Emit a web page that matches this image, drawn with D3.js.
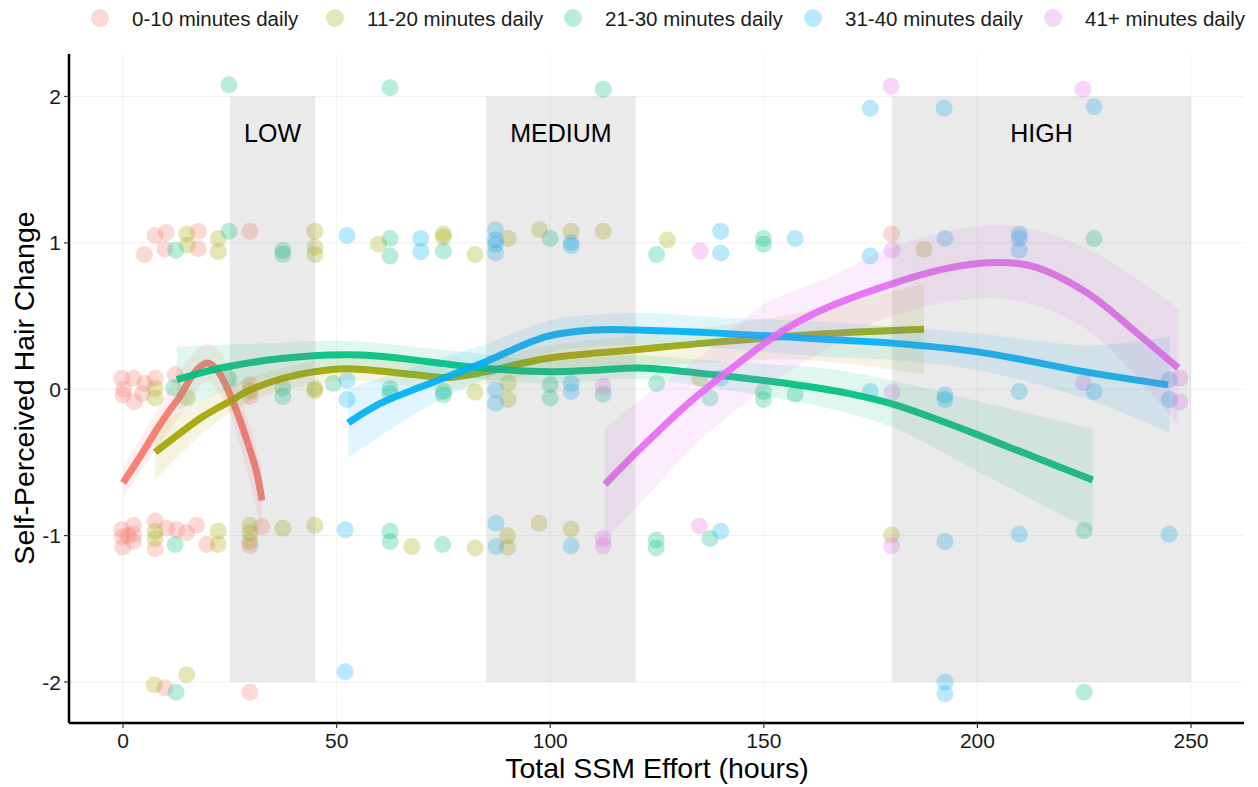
<!DOCTYPE html>
<html>
<head>
<meta charset="utf-8">
<script src="https://cdn.jsdelivr.net/npm/d3@7"></script>
<style>
  html, body { margin: 0; padding: 0; background: #fff; }
  svg { display: block; font-family: "Liberation Sans", Arial, Helvetica, sans-serif; }
</style>
</head>
<body>
<svg id="chart" width="1258" height="787"></svg>
<script>
// ---------------- DATA ----------------
const groups = ["0-10 minutes daily", "11-20 minutes daily", "21-30 minutes daily", "31-40 minutes daily", "41+ minutes daily"];
const colors = ["#F8766D", "#A3A500", "#00BF7D", "#00B0F6", "#E76BF3"];

const xTicks = [0, 50, 100, 150, 200, 250];
const yTicks = [-2, -1, 0, 1, 2];

const zones = [
  { label: "LOW", x0: 25, x1: 45 },
  { label: "MEDIUM", x0: 85, x1: 120 },
  { label: "HIGH", x0: 180, x1: 250 }
];

// scatter points [effort, change] (jittered as in the picture)
const pts0_10 = [
  [7.5,1.05],[10.1,1.07],[17.6,1.08],[5.0,0.92],[9.8,0.96],[17.6,0.96],[29.7,1.08],[179.9,1.06],
  [-0.3,0.075],[2.4,0.075],[5.1,0.04],[0,-0.04],[2.6,-0.085],[7.5,0.075],[12.2,0.1],[29.7,0.03],[29.7,-0.05],[0.2,0.0],[4.5,-0.03],
  [-0.3,-0.96],[-0.2,-1.01],[-0.1,-1.08],[2.4,-0.93],[2.5,-0.99],[2.4,-1.04],[1.2,-1.0],[7.5,-0.9],[7.5,-1.09],[10.2,-0.95],
  [12.6,-0.96],[14.9,-0.98],[17.2,-0.93],[19.6,-1.06],[29.7,-1.07],[32.5,-0.94],
  [9.8,-2.04],[29.7,-2.07]
];
const pts11_20 = [
  [14.9,1.06],[15.1,0.985],[22.3,1.03],[22.3,0.94],[44.9,1.08],[44.9,0.97],[44.9,0.92],[59.8,0.99],[75,1.06],[75,1.04],
  [82.4,0.92],[90.2,1.03],[97.5,1.09],[104.9,1.08],[112.4,1.08],[127.4,1.02],[187.5,0.955],
  [7.5,0.005],[7.5,-0.06],[15.1,-0.06],[29.7,-0.01],[44.9,0.005],[44.9,-0.01],[82.4,-0.02],[90.2,0.04],[90.2,-0.07],[135,0.075],
  [7.5,-0.97],[7.5,-1.02],[22.3,-0.97],[22.3,-1.06],[29.7,-0.93],[29.7,-0.98],[29.7,-1.04],[37.4,-0.95],[44.9,-0.93],
  [67.6,-1.075],[82.4,-1.085],[90,-1.0],[90,-1.08],[97.4,-0.915],[104.9,-0.955],[179.9,-0.995],
  [7.3,-2.02],[14.9,-1.95]
];
const pts21_30 = [
  [24.8,2.08],[62.5,2.06],[112.4,2.05],
  [12.3,0.95],[24.8,1.08],[37.4,0.95],[37.4,0.92],[62.5,1.03],[62.5,0.91],[75,0.945],[100,1.03],[124.9,0.92],[149.9,1.03],[149.9,0.99],[227.3,1.03],
  [11.8,0.01],[24.7,0.075],[37.4,0.01],[37.4,-0.05],[49.2,0.04],[62.5,0.005],[62.5,-0.03],[75,-0.015],[75,-0.04],[100,0.03],[100,-0.06],
  [112.4,-0.035],[124.9,0.04],[137.4,-0.06],[149.9,-0.015],[149.9,-0.07],[157.3,-0.035],
  [12.2,-1.06],[62.5,-0.97],[62.5,-1.04],[74.8,-1.06],[124.8,-1.03],[124.8,-1.085],[137.4,-1.02],[225,-0.965],
  [12.4,-2.07],[225,-2.07]
];
const pts31_40 = [
  [174.9,1.92],[192.2,1.92],[227.3,1.93],
  [52.4,1.05],[69.7,1.03],[69.7,0.94],[87.2,1.09],[87.2,1.02],[87.2,0.99],[87.2,0.93],[104.9,1.0],[104.9,0.98],[139.9,1.08],[139.9,0.93],
  [157.3,1.03],[174.9,0.91],[192.4,1.03],[209.8,1.06],[209.8,1.03],[209.8,0.95],
  [52.4,0.06],[52.4,-0.07],[87.2,-0.005],[87.2,-0.095],[104.9,0.04],[104.9,-0.015],[139.9,0.075],[174.9,-0.015],[192.4,-0.07],[192.4,-0.04],
  [209.8,-0.015],[227.3,-0.015],[244.9,0.065],[244.9,-0.07],
  [52,-0.96],[87.3,-0.915],[87.3,-1.075],[104.9,-1.07],[139.9,-0.97],[192.4,-1.04],[209.8,-0.99],[244.9,-0.99],
  [52,-1.93],[192.4,-2.0],[192.4,-2.08]
];
const pts41 = [
  [179.8,2.07],[224.7,2.05],
  [135.1,0.945],[180,0.95],
  [112.4,0.02],[180,-0.02],[224.8,0.045],[247.4,0.075],[247.4,-0.085],
  [112.4,-1.02],[112.4,-1.07],[134.9,-0.935],[179.9,-1.07]
];

// smoothed fits [effort, fit]
const fit0_10 = [[0,-0.64],[4,-0.46],[8,-0.27],[11,-0.14],[13.3,-0.05],[15.5,0.06],[17.5,0.14],[19.6,0.18],[21.5,0.15],[23.5,0.06],[25.5,-0.07],[27,-0.18],[29,-0.35],[31.3,-0.57],[32.5,-0.76]];
const fit11_20 = [[7.5,-0.43],[12,-0.33],[18,-0.2],[22,-0.13],[25.8,-0.07],[28.6,-0.02],[37,0.07],[45,0.12],[52.4,0.14],[60,0.125],[68,0.1],[76,0.08],[85,0.12],[99,0.21],[120,0.27],[138,0.32],[165,0.38],[187.5,0.41]];
const fit21_30 = [[12.6,0.065],[18,0.11],[24.7,0.155],[37,0.21],[52,0.235],[60,0.225],[71,0.19],[84,0.145],[100,0.12],[110,0.13],[121,0.145],[130,0.125],[138,0.1],[150,0.06],[160,0.02],[170,-0.03],[180,-0.1],[190,-0.2],[200,-0.31],[213,-0.46],[227,-0.62]];
const fit31_40 = [[52.7,-0.23],[60,-0.1],[71,0.03],[85,0.19],[99,0.36],[110,0.405],[120,0.405],[138,0.385],[165,0.34],[180,0.315],[200,0.255],[227,0.11],[244.6,0.03]];
const fit41 = [[112.8,-0.65],[122,-0.38],[133,-0.08],[145,0.2],[155,0.41],[165,0.56],[180,0.72],[192,0.82],[204,0.865],[213,0.84],[225.6,0.66],[237.3,0.385],[247,0.145]];

// confidence bands [effort, lower, upper]
const band0_10 = [[0,-0.74,-0.54],[8,-0.4,-0.14],[14,-0.15,0.15],[19.6,0.05,0.31],[24,-0.1,0.2],[28,-0.45,-0.1],[32.5,-0.98,-0.54]];
const band11_20 = [[7.5,-0.62,-0.25],[20,-0.27,-0.05],[30,-0.08,0.08],[52,0.06,0.22],[76,0.0,0.16],[100,0.12,0.3],[130,0.17,0.4],[160,0.2,0.53],[187.5,0.1,0.72]];
const band21_30 = [[12.6,-0.15,0.29],[30,0.05,0.31],[52,0.14,0.33],[75,0.09,0.27],[100,0.04,0.2],[120,0.07,0.23],[140,0.0,0.19],[165,-0.13,0.14],[180,-0.26,0.06],[200,-0.56,-0.08],[227,-0.97,-0.27]];
const band31_40 = [[52.7,-0.47,0.0],[70,-0.14,0.17],[85,0.07,0.31],[100,0.25,0.47],[120,0.3,0.52],[140,0.28,0.49],[165,0.22,0.46],[180,0.2,0.43],[200,0.13,0.38],[227,-0.08,0.3],[245,-0.3,0.36]];
const band41 = [[112.8,-1.03,-0.27],[122,-0.75,-0.05],[135,-0.35,0.22],[150,0.0,0.58],[165,0.28,0.76],[180,0.5,0.97],[205,0.62,1.12],[225,0.42,0.97],[247,-0.25,0.55]];

const seriesPts = [pts0_10, pts11_20, pts21_30, pts31_40, pts41];
const seriesFit = [fit0_10, fit11_20, fit21_30, fit31_40, fit41];
const seriesBand = [band0_10, band11_20, band21_30, band31_40, band41];

const xTitle = "Total SSM Effort (hours)";
const yTitle = "Self-Perceived Hair Change";

// ---------------- DRAW ----------------
const svg = d3.select("#chart");
const pL = 69, pR = 1244, pT = 54, pB = 723;
const x = d3.scaleLinear().domain([-12.65, 262.4]).range([pL, pR]);
const y = d3.scaleLinear().domain([-2.28, 2.29]).range([pB, pT]);

// grid
const grid = svg.append("g");
grid.selectAll("line.gx").data(xTicks).join("line")
  .attr("x1", d => x(d)).attr("x2", d => x(d)).attr("y1", pT).attr("y2", pB)
  .attr("stroke", "#f1f1f1").attr("stroke-width", 1);
grid.selectAll("line.gy").data(yTicks).join("line")
  .attr("y1", d => y(d)).attr("y2", d => y(d)).attr("x1", pL).attr("x2", pR)
  .attr("stroke", "#f1f1f1").attr("stroke-width", 1);

// points
const ptsG = svg.append("g");
seriesPts.forEach((pts, i) => {
  ptsG.append("g").selectAll("circle").data(pts).join("circle")
    .attr("cx", d => x(d[0])).attr("cy", d => y(d[1])).attr("r", 8.5)
    .attr("fill", colors[i]).attr("fill-opacity", 0.28);
});

// smooths
const area = d3.area().x(d => x(d[0])).y0(d => y(d[1])).y1(d => y(d[2])).curve(d3.curveCatmullRom);
const line = d3.line().x(d => x(d[0])).y(d => y(d[1])).curve(d3.curveCatmullRom);
const smG = svg.append("g");
seriesFit.forEach((fit, i) => {
  smG.append("path").datum(seriesBand[i]).attr("d", area)
    .attr("fill", colors[i]).attr("fill-opacity", 0.12);
  smG.append("path").datum(fit).attr("d", line)
    .attr("fill", "none").attr("stroke", colors[i]).attr("stroke-width", 7)
    .attr("stroke-linecap", "butt").attr("stroke-opacity", 0.92);
});

// zones
const zG = svg.append("g");
zG.selectAll("rect").data(zones).join("rect")
  .attr("x", d => x(d.x0)).attr("width", d => x(d.x1) - x(d.x0))
  .attr("y", y(2)).attr("height", y(-2) - y(2))
  .attr("fill", "#7f7f7f").attr("fill-opacity", 0.16);
zG.selectAll("text").data(zones).join("text")
  .attr("x", d => x((d.x0 + d.x1) / 2)).attr("y", y(1.75))
  .attr("text-anchor", "middle").attr("dominant-baseline", "central")
  .attr("font-size", 25).attr("fill", "#000").text(d => d.label);

// axes
const axG = svg.append("g");
axG.append("line").attr("x1", pL).attr("x2", pR).attr("y1", pB).attr("y2", pB)
  .attr("stroke", "#000").attr("stroke-width", 2.5);
axG.append("line").attr("x1", pL).attr("x2", pL).attr("y1", pT).attr("y2", pB)
  .attr("stroke", "#000").attr("stroke-width", 2.5);
axG.selectAll("line.tx").data(xTicks).join("line").attr("class", "tx")
  .attr("x1", d => x(d)).attr("x2", d => x(d)).attr("y1", pB).attr("y2", pB + 5)
  .attr("stroke", "#333").attr("stroke-width", 1.2);
axG.selectAll("line.ty").data(yTicks).join("line").attr("class", "ty")
  .attr("y1", d => y(d)).attr("y2", d => y(d)).attr("x1", pL - 5).attr("x2", pL)
  .attr("stroke", "#333").attr("stroke-width", 1.2);
axG.selectAll("text.tx").data(xTicks).join("text").attr("class", "tx")
  .attr("x", d => x(d)).attr("y", 740).attr("text-anchor", "middle").attr("dominant-baseline", "central")
  .attr("font-size", 21).attr("fill", "#1a1a1a").text(d => d);
axG.selectAll("text.ty").data(yTicks).join("text").attr("class", "ty")
  .attr("x", 61).attr("y", d => y(d)).attr("text-anchor", "end").attr("dominant-baseline", "central")
  .attr("font-size", 21).attr("fill", "#1a1a1a").text(d => d < 0 ? "-" + Math.abs(d) : d);

svg.append("text").attr("x", 657).attr("y", 768).attr("text-anchor", "middle").attr("dominant-baseline", "central")
  .attr("font-size", 28.5).attr("fill", "#000").text(xTitle);
svg.append("text").attr("transform", "translate(24,388) rotate(-90)").attr("text-anchor", "middle")
  .attr("dominant-baseline", "central").attr("font-size", 28.5).attr("fill", "#000").text(yTitle);

// legend
const legX = [100, 335, 573, 813, 1053];
const lg = svg.append("g");
groups.forEach((g, i) => {
  lg.append("circle").attr("cx", legX[i]).attr("cy", 18).attr("r", 9)
    .attr("fill", colors[i]).attr("fill-opacity", 0.28);
  lg.append("text").attr("x", legX[i] + 32).attr("y", 18).attr("dominant-baseline", "central")
    .attr("font-size", 20.5).attr("fill", "#1a1a1a").text(g);
});
</script>
</body>
</html>
